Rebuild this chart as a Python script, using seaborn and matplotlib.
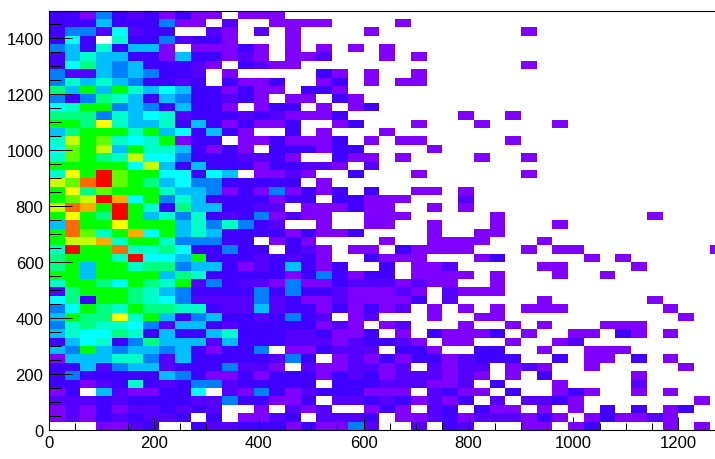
import numpy as np
import matplotlib
matplotlib.use('Agg')
import matplotlib.pyplot as plt
from matplotlib.colors import ListedColormap
from matplotlib.ticker import FixedLocator
from matplotlib.transforms import ScaledTranslation
import seaborn as sns

# colour level per bin, rows listed from the top of the plot (1500) downwards
# 0 = empty bin, 1 = lowest (purple) ... 15 = highest (red)
rows_from_top = [
    [3,3,1,4,3,2,3,1,3,1,1,0,1,1,1],
    [3,3,3,5,3,3,3,4,1,1,0,2,0,0,1,1,1,1,0,0,0,0,1],
    [3,4,4,2,6,2,3,3,0,0,2,1,0,2,0,1,0,0,0,0,1,0,0,0,0,0,0,0,0,0,1],
    [3,6,3,0,7,3,3,4,2,3,3,1,0,0,0,1],
    [4,5,3,7,3,5,5,1,0,1,1,1,3,1,0,1,0,1,0,1,0,1],
    [3,5,7,5,5,3,3,1,5,3,3,1,2,1,0,1,1,2,0,0,0,1,0,1],
    [3,6,8,5,4,5,3,3,3,2,1,0,3,2,1,1,0,0,0,0,0,0,0,0,0,0,0,0,0,0,1],
    [4,2,2,5,4,5,4,3,3,2,0,1,0,0,0,0,0,3,1,0,1,0,0,1],
    [4,7,5,7,5,4,3,3,2,3,0,3,1,1,3,0,0,1,3,0,1,0,1,1],
    [8,5,9,5,9,7,5,6,5,3,3,1,3,1,1,0,3,3,1],
    [4,3,4,8,7,5,3,5,4,3,3,2,3,1,0,1,1,0,3,1],
    [6,7,9,9,4,5,4,3,5,3,3,1,0,1,3,3,0,1,0,1,3],
    [8,8,8,4,7,5,6,7,2,3,3,3,2,3,2,1,1,1,3,0,0,0,0,0,0,0,1,0,0,1],
    [9,9,8,12,7,5,5,7,3,5,3,1,3,1,1,3,0,0,1,3,0,0,0,1,0,0,0,1,0,0,0,0,1],
    [5,8,9,9,9,7,9,5,6,3,5,3,1,0,0,3,0,1,0,0,0,1],
    [7,11,9,10,7,6,7,9,1,3,3,0,1,1,3,1,1,1,3,0,1,0,1,1,0,0,0,0,0,1],
    [6,10,9,11,5,9,7,7,5,3,1,3,1,0,3,3,3,1,3,3,0,0,0,0,1],
    [7,10,9,8,7,11,6,6,4,3,3,3,2,2,3,1,0,0,3,1,1,0,1,0,0,0,0,1,0,0,1],
    [9,9,9,9,9,6,11,5,3,5,3,3,3,1,3,3,2,2,1,0,2],
    [7,12,9,15,10,9,9,6,6,3,6,5,0,1,1,2,1,0,0,3,0,0,0,1,0,0,0,0,0,0,1],
    [11,10,14,15,10,9,8,5,6,4,4,3,3,3,3,3,0,1],
    [9,12,8,10,9,9,9,7,5,5,4,1,3,1,4,1,3,1,3,0,3,0,0,1,1,0,1],
    [9,10,11,15,13,6,9,4,7,5,3,3,3,3,1,3,3,0,3,3,1,1,1,0,0,0,2],
    [11,14,13,9,15,9,7,3,8,5,5,3,3,2,2,0,1,1,1,3,1,1,0,0,1,0,1],
    [9,12,9,8,15,9,5,7,4,7,3,2,3,4,1,2,1,1,0,0,1,1,1,0,0,0,0,0,1,0,0,0,0,0,0,0,0,0,1],
    [5,14,9,9,12,9,9,9,5,7,4,7,4,3,2,0,0,1,0,0,1,1,0,0,1,0,0,0,1,0,0,0,1],
    [9,14,10,7,9,13,6,9,5,7,5,3,3,3,3,1,3,1,1,3,0,0,0,0,1,0,0,1,1],
    [9,11,11,13,7,9,9,7,4,4,4,3,3,0,1,3,1,0,0,0,0,1,0,0,1,1,1,1,0,0,0,1],
    [7,15,9,9,14,7,7,8,6,3,3,4,3,3,0,3,2,1,0,1,1,0,3,1,1,1,1,0,0,0,1,0,1,1,0,0,0,0,0,0,0,0,1],
    [8,9,9,9,7,15,6,6,5,9,3,3,3,2,3,2,3,1,0,0,3,1,1,1,0,0,0,1,3,0,0,0,0,0,1,0,1],
    [8,9,5,9,9,7,8,8,4,5,5,3,1,2,3,5,3,1,3,0,0,3,0,1,1,2,0,0,0,0,0,1,1,0,0,0,0,1],
    [9,9,5,9,9,9,9,5,8,7,3,3,3,3,3,1,3,4,3,1,3,3,0,1,1,1,1,0,1,0,0,0,1,0,0,1],
    [7,9,9,8,6,9,8,7,9,2,4,3,2,2,1,4,1,1,3,2,2,2,1,2,1,1,0,0,1],
    [2,8,9,9,9,8,7,5,4,3,3,3,3,4,3,4,3,3,2,1,1,1,2,1,0,2,1,1,1],
    [6,8,3,9,9,8,7,6,4,2,2,2,2,4,2,3,1,1,2,1,1,1,1,3,0,2,0,0,0,0,0,1,0,0,0,0,0,0,1],
    [4,6,9,8,7,9,8,8,7,7,3,2,2,5,2,3,3,1,3,1,3,1,2,0,1,0,1,0,1,0,1,1,1,0,0,0,0,0,0,1],
    [5,9,8,8,12,7,9,5,3,4,5,3,3,2,3,4,3,2,0,1,2,0,0,0,1,0,0,1,1,0,0,0,0,0,0,0,0,0,0,0,1],
    [4,7,8,7,7,6,4,2,5,5,3,2,3,3,3,3,3,1,2,1,0,1,2,0,0,0,1,0,0,1,0,1,0,0,0,1,1,1],
    [5,7,6,6,8,7,3,5,3,3,5,7,3,3,3,2,2,3,1,1,3,0,1,0,3,1,1,1,3,0,1,0,0,1,1,0,3,1,0,1],
    [3,5,6,7,3,4,8,5,5,5,2,5,3,3,3,2,2,2,1,2,3,3,2,1,0,1,1,0,0,1,0,0,1,2],
    [5,4,9,5,4,5,5,4,5,3,1,3,3,4,0,1,1,3,2,2,2,0,3,3,1,0,0,3,3,0,0,1,0,0,1,1,1],
    [1,5,5,5,7,7,4,2,5,3,3,3,3,3,2,4,3,0,1,2,1,3,1,3,3,1,2,3,3,3,0,0,3,0,1,1,0,3,0,1],
    [3,3,5,2,4,5,5,2,3,3,3,4,2,2,1,0,2,1,1,2,2,1,2,0,2,1,2,2,0,1,2,1,0,0,1,0,0,0,0,0,1],
    [3,4,3,3,3,3,3,5,4,3,1,1,3,1,3,3,3,1,3,2,3,1,2,2,2,1,2,1,0,1,0,3,0,0,0,0,0,1],
    [3,3,1,2,3,7,3,2,3,4,4,2,3,3,3,3,3,0,3,3,3,2,2,2,1,1,2,0,3,0,0,0,1,0,0,0,0,2],
    [1,3,0,5,2,1,1,3,3,6,0,2,1,4,3,1,2,3,3,3,1,1,1,0,2,3,1,1,0,3,0,0,1,3,1,0,0,1,0,1],
    [2,2,2,3,2,3,3,3,3,2,2,4,3,3,1,1,3,0,2,2,3,2,3,1,2,1,3,0,2,0,2,2,3,1,0,0,0,0,0,0,0,1],
    [1,2,1,3,1,2,2,3,2,3,2,0,0,1,0,2,1,2,0,0,1,3,1,0,2,3,0,3,1,1,0,1,0,1,0,3,0,3,0,1,3],
    [1,2,1,3,2,3,2,2,3,0,3,0,1,1,2,3,0,2,2,2,3,0,1,1,2,3,1,2,2,2,1,3,1,0,1,3,1,1,2,1],
    [0,0,0,1,1,2,3,0,0,3,2,2,3,3,3,1,3,1,1,4,2,0,0,2,0,3,2,0,0,0,1,1,0,1,3,0,0,0,0,1,0,1],
]
palette = ['#7f00ff', '#5500ff', '#3f00ff', '#0080ff', '#00bfff', '#00ffff', '#00ffc8',
           '#00ff80', '#00ff00', '#60ff00', '#c8ff00', '#ffff00', '#ffaa00', '#ff6a00', '#ff0000']
x_major = [0, 200, 400, 600, 800, 1000, 1200]
y_major = [0, 200, 400, 600, 800, 1000, 1200, 1400]
bin_width = 30

n_cols = 43
grid = np.zeros((len(rows_from_top), n_cols))
for i, row in enumerate(rows_from_top[::-1]):
    grid[i, :len(row)] = row

sns.set_theme(style='white')
plt.rcParams['font.family'] = ['Liberation Sans', 'DejaVu Sans']

fig = plt.figure(figsize=(7.15, 4.6), dpi=100)
ax = fig.add_axes([49/715, 29/460, 666/715, 419.5/460])

sns.heatmap(grid, mask=grid == 0, cmap=ListedColormap(palette), vmin=0.5, vmax=15.5,
            cbar=False, linewidths=0, ax=ax)
ax.set_xlim(0, 1270/bin_width)
ax.set_ylim(0, 1500/bin_width)

# ROOT style: inward ticks, no frame on the right
ax.xaxis.set_major_locator(FixedLocator([v/bin_width for v in x_major]))
ax.yaxis.set_major_locator(FixedLocator([v/bin_width for v in y_major]))
ax.xaxis.set_minor_locator(FixedLocator([v/bin_width for v in range(0, 1270, 50)]))
ax.yaxis.set_minor_locator(FixedLocator([v/bin_width for v in range(0, 1501, 50)]))
ax.set_xticklabels([str(v) for v in x_major], rotation=0)
ax.set_yticklabels([str(v) for v in y_major], rotation=0)
ax.set_xlabel('')
ax.set_ylabel('')
ax.tick_params(axis='x', which='major', direction='in', length=9.6, width=0.72, color='black',
               labelsize=12, labelcolor='black', pad=3.5, bottom=True)
ax.tick_params(axis='x', which='minor', direction='in', length=4.8, width=0.72, color='black', bottom=True)
ax.tick_params(axis='y', which='major', direction='in', length=16.8, width=0.72, color='black',
               labelsize=12, labelcolor='black', pad=4, left=True)
ax.tick_params(axis='y', which='minor', direction='in', length=8.6, width=0.72, color='black', left=True)
ax.set_axisbelow(False)
for side in ['left', 'bottom', 'top']:
    ax.spines[side].set_visible(True)
    ax.spines[side].set_color('black')
    ax.spines[side].set_linewidth(0.8)
ax.spines['right'].set_visible(False)

# y labels sit a little lower than matplotlib centres them
nudge = ScaledTranslation(0, -1.5/100, fig.dpi_scale_trans)
for label in ax.get_yticklabels():
    label.set_transform(label.get_transform() + nudge)

fig.savefig('out.png', dpi=100)
